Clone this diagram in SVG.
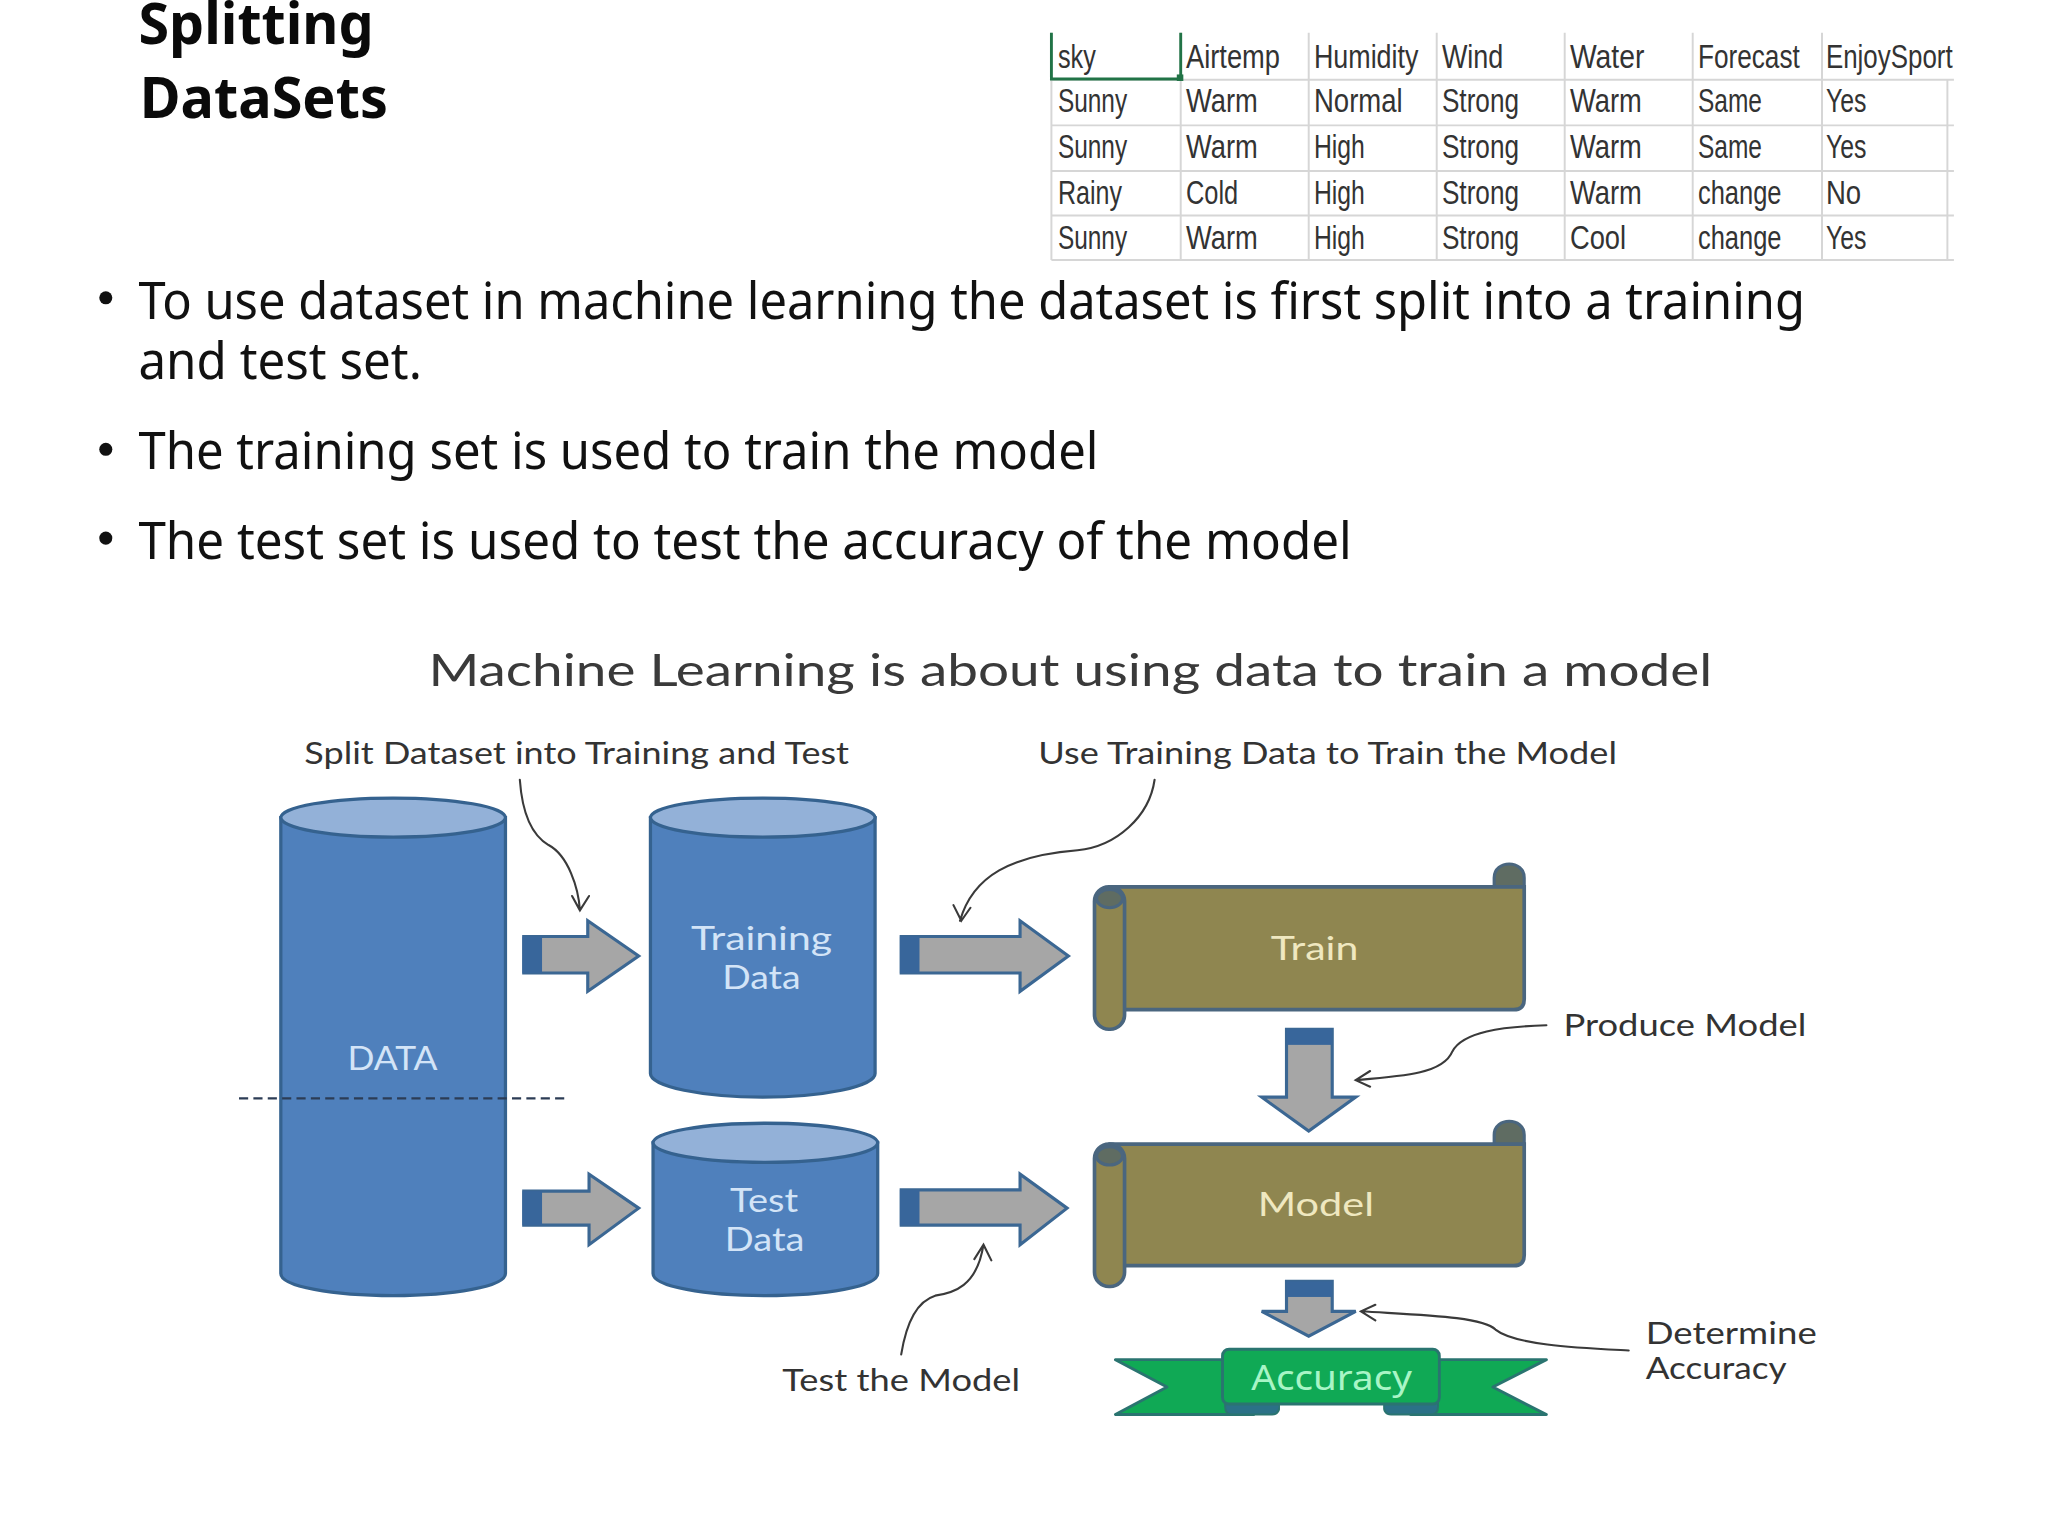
<svg xmlns="http://www.w3.org/2000/svg" width="2048" height="1536" viewBox="0 0 2048 1536">
<defs>
<style>
text{font-family:"Noto Sans","Liberation Sans",sans-serif}
.title{font-size:44px;font-weight:700;fill:#0a0a0a}
.body{font-size:39px;fill:#111}
.bullet{fill:#111}
.cell{font-family:"Liberation Sans Narrow","Liberation Sans",sans-serif;font-size:25px;fill:#333}
.grid{stroke:#d6d6d6;stroke-width:1.5;fill:none}
.sel{stroke:#217346;stroke-width:2.2;fill:none}
.head{font-family:Lato,"Noto Sans",sans-serif;font-size:34px;fill:#3a3a3a}
.note{font-family:Lato,"Noto Sans",sans-serif;font-size:24px;fill:#333}
.cyl{fill:#4f80bc;stroke:#35628f;stroke-width:2.5}
.cap{fill:#93b1d8;stroke:#35628f;stroke-width:2.5}
.ct{font-family:Lato,"Noto Sans",sans-serif;font-size:25px;fill:#d3e4f7;text-anchor:middle}
.st{font-family:Lato,"Noto Sans",sans-serif;font-size:25px;fill:#efe8c0;text-anchor:middle}
.arrow{fill:#a6a6a6;stroke:#3b6793;stroke-width:2.4}
.band{fill:#38669b}
.scroll{fill:#8f8650;stroke:#4a667f;stroke-width:2.8}
.curl{fill:#5f6c62;stroke:#4a667f;stroke-width:2.4}
.rib{fill:#10a955;stroke:#2a7470;stroke-width:2.2;stroke-linejoin:round}
.foot{fill:#2b7187;stroke:#2a7470;stroke-width:1.5}
.leader{fill:none;stroke:#3a3a3a;stroke-width:1.6;stroke-linecap:round}
.dash{stroke:#2c3c55;stroke-width:1.8;stroke-dasharray:7 4;fill:none}
</style>
</defs>
<rect width="2048" height="1536" fill="#ffffff"/>
<g transform="scale(1.3061)">
<g id="slide-title">
<text class="title" x="106" y="34" textLength="180" lengthAdjust="spacingAndGlyphs">Splitting</text>
<text class="title" x="107" y="90" textLength="190" lengthAdjust="spacingAndGlyphs">DataSets</text>
</g>
<g id="bullets">
<circle class="bullet" cx="81" cy="228" r="5"/>
<circle class="bullet" cx="81" cy="344" r="5"/>
<circle class="bullet" cx="81" cy="412" r="5"/>
<text class="body" x="106" y="244" textLength="1276" lengthAdjust="spacingAndGlyphs">To use dataset in machine learning the dataset is first split into a training</text>
<text class="body" x="106" y="290" textLength="217" lengthAdjust="spacingAndGlyphs">and test set.</text>
<text class="body" x="106" y="359" textLength="735" lengthAdjust="spacingAndGlyphs">The training set is used to train the model</text>
<text class="body" x="106" y="428" textLength="929" lengthAdjust="spacingAndGlyphs">The test set is used to test the accuracy of the model</text>
</g>
<g id="table">
<path class="grid" d="M805 61H1496M805 96H1496M805 131H1496M805 165H1496M805 199H1496M805 25V199M904 25V199M1002 25V199M1100 25V199M1198 25V199M1296 25V199M1395 25V199M1491 61V199"/>
<path class="sel" d="M805 25V60.500H904M904 25V60"/>
<rect x="901" y="57" width="5" height="5" fill="#217346"/>
<text class="cell" x="810" y="52" textLength="29" lengthAdjust="spacingAndGlyphs">sky</text>
<text class="cell" x="908" y="52" textLength="72" lengthAdjust="spacingAndGlyphs">Airtemp</text>
<text class="cell" x="1006" y="52" textLength="80" lengthAdjust="spacingAndGlyphs">Humidity</text>
<text class="cell" x="1104" y="52" textLength="47" lengthAdjust="spacingAndGlyphs">Wind</text>
<text class="cell" x="1202" y="52" textLength="57" lengthAdjust="spacingAndGlyphs">Water</text>
<text class="cell" x="1300" y="52" textLength="78" lengthAdjust="spacingAndGlyphs">Forecast</text>
<text class="cell" x="1398" y="52" textLength="97" lengthAdjust="spacingAndGlyphs">EnjoySport</text>
<text class="cell" x="810" y="86" textLength="53" lengthAdjust="spacingAndGlyphs">Sunny</text>
<text class="cell" x="908" y="86" textLength="55" lengthAdjust="spacingAndGlyphs">Warm</text>
<text class="cell" x="1006" y="86" textLength="68" lengthAdjust="spacingAndGlyphs">Normal</text>
<text class="cell" x="1104" y="86" textLength="59" lengthAdjust="spacingAndGlyphs">Strong</text>
<text class="cell" x="1202" y="86" textLength="55" lengthAdjust="spacingAndGlyphs">Warm</text>
<text class="cell" x="1300" y="86" textLength="49" lengthAdjust="spacingAndGlyphs">Same</text>
<text class="cell" x="1398" y="86" textLength="31" lengthAdjust="spacingAndGlyphs">Yes</text>
<text class="cell" x="810" y="121" textLength="53" lengthAdjust="spacingAndGlyphs">Sunny</text>
<text class="cell" x="908" y="121" textLength="55" lengthAdjust="spacingAndGlyphs">Warm</text>
<text class="cell" x="1006" y="121" textLength="39" lengthAdjust="spacingAndGlyphs">High</text>
<text class="cell" x="1104" y="121" textLength="59" lengthAdjust="spacingAndGlyphs">Strong</text>
<text class="cell" x="1202" y="121" textLength="55" lengthAdjust="spacingAndGlyphs">Warm</text>
<text class="cell" x="1300" y="121" textLength="49" lengthAdjust="spacingAndGlyphs">Same</text>
<text class="cell" x="1398" y="121" textLength="31" lengthAdjust="spacingAndGlyphs">Yes</text>
<text class="cell" x="810" y="156" textLength="49" lengthAdjust="spacingAndGlyphs">Rainy</text>
<text class="cell" x="908" y="156" textLength="40" lengthAdjust="spacingAndGlyphs">Cold</text>
<text class="cell" x="1006" y="156" textLength="39" lengthAdjust="spacingAndGlyphs">High</text>
<text class="cell" x="1104" y="156" textLength="59" lengthAdjust="spacingAndGlyphs">Strong</text>
<text class="cell" x="1202" y="156" textLength="55" lengthAdjust="spacingAndGlyphs">Warm</text>
<text class="cell" x="1300" y="156" textLength="64" lengthAdjust="spacingAndGlyphs">change</text>
<text class="cell" x="1398" y="156" textLength="27" lengthAdjust="spacingAndGlyphs">No</text>
<text class="cell" x="810" y="191" textLength="53" lengthAdjust="spacingAndGlyphs">Sunny</text>
<text class="cell" x="908" y="191" textLength="55" lengthAdjust="spacingAndGlyphs">Warm</text>
<text class="cell" x="1006" y="191" textLength="39" lengthAdjust="spacingAndGlyphs">High</text>
<text class="cell" x="1104" y="191" textLength="59" lengthAdjust="spacingAndGlyphs">Strong</text>
<text class="cell" x="1202" y="191" textLength="43" lengthAdjust="spacingAndGlyphs">Cool</text>
<text class="cell" x="1300" y="191" textLength="64" lengthAdjust="spacingAndGlyphs">change</text>
<text class="cell" x="1398" y="191" textLength="31" lengthAdjust="spacingAndGlyphs">Yes</text>
</g>
<text class="head" x="328" y="525" textLength="983" lengthAdjust="spacingAndGlyphs">Machine Learning is about using data to train a model</text>
<g id="data-cylinder">
<path class="cyl" d="M215 626V975C215 985 255 992 301 992C347 992 387 985 387 975V626Z"/>
<ellipse class="cap" cx="301" cy="626" rx="86" ry="15"/>
<text class="ct" x="300.500" y="819" textLength="69" lengthAdjust="spacingAndGlyphs">DATA</text>
</g>
<g id="training-cylinder">
<path class="cyl" d="M498 626V822C498 832 538 840 584 840C630 840 670 832 670 822V626Z"/>
<ellipse class="cap" cx="584" cy="626" rx="86" ry="15"/>
<text class="ct" x="583" y="727" textLength="108" lengthAdjust="spacingAndGlyphs">Training</text>
<text class="ct" x="583" y="757" textLength="60" lengthAdjust="spacingAndGlyphs">Data</text>
</g>
<g id="test-cylinder">
<path class="cyl" d="M500 875V975C500 985 540 992 586 992C632 992 672 985 672 975V875Z"/>
<ellipse class="cap" cx="586" cy="875" rx="86" ry="15"/>
<text class="ct" x="585" y="928" textLength="52" lengthAdjust="spacingAndGlyphs">Test</text>
<text class="ct" x="585.500" y="958" textLength="61" lengthAdjust="spacingAndGlyphs">Data</text>
</g>
<g id="train-scroll">
<path class="curl" d="M1144 682V672C1144 658 1167 658 1167 672V682Z"/>
<path class="scroll" d="M850 679H1167V765Q1167 773 1159 773H850Z"/>
<rect class="scroll" x="838" y="679" width="23" height="109" rx="11"/>
<ellipse class="curl" cx="849.500" cy="688" rx="10" ry="7"/>
<text class="st" x="1006.500" y="735" textLength="67" lengthAdjust="spacingAndGlyphs">Train</text>
</g>
<g id="model-scroll">
<path class="curl" d="M1144 879V869C1144 855 1167 855 1167 869V879Z"/>
<path class="scroll" d="M850 876H1167V961Q1167 969 1159 969H850Z"/>
<rect class="scroll" x="838" y="876" width="23" height="109" rx="11"/>
<ellipse class="curl" cx="849.500" cy="885" rx="10" ry="7"/>
<text class="st" x="1007.500" y="931" textLength="89" lengthAdjust="spacingAndGlyphs">Model</text>
</g>
<g id="accuracy-ribbon">
<path class="rib" d="M854 1041H960V1083H854L893.500 1062ZM1184 1041H1080V1083H1184L1143 1062Z"/>
<path class="foot" d="M938 1070V1077Q938 1083 944 1083H974Q980 1083 980 1074V1070ZM1101 1070V1077Q1101 1083 1095 1083H1065Q1059 1083 1059 1074V1070Z"/>
<path d="M980 1074H1059V1085H980Z" fill="#ffffff"/>
<rect class="rib" x="936" y="1033" width="166" height="42" rx="5"/>
<text x="1019.500" y="1064" text-anchor="middle" font-family="Lato,'Noto Sans',sans-serif" font-size="27" fill="#a8f5c6" textLength="123" lengthAdjust="spacingAndGlyphs">Accuracy</text>
</g>
<g id="connectors">
<path class="dash" d="M183 841H432"/>
<g id="block-arrows">
<path class="arrow" d="M401 717H450V705L489 732L450 759V745H401Z"/><rect class="band" x="400" y="717" width="15" height="28"/>
<path class="arrow" d="M690 717H781V705L818 732L781 759V745H690Z"/><rect class="band" x="689" y="717" width="15" height="28"/>
<path class="arrow" d="M401 912H451V899L489 925L451 953V938H401Z"/><rect class="band" x="400" y="912" width="15" height="26"/>
<path class="arrow" d="M690 911H781V899L817 925L781 953V938H690Z"/><rect class="band" x="689" y="911" width="15" height="27"/>
<path class="arrow" d="M985 788H1020V840H1038L1002 866L966 840H985Z"/><rect class="band" x="985" y="788" width="35" height="12"/>
<path class="arrow" d="M985 981H1020V1004H1038L1002 1023L966 1004H985Z"/><rect class="band" x="985" y="981" width="35" height="12"/>
</g>
<path class="leader" d="M398 597C400 625 408 640 420 647C435 655 443 680 444 697M438 686L444 697L451 686"/>
<path class="leader" d="M884 597C880 625 855 648 825 651C775 655 745 670 735 705M730 693L736 705L743 695"/>
<path class="leader" d="M1184 785C1150 786 1120 790 1112 805C1105 822 1075 824 1038 827M1049 820L1038 827L1049 832"/>
<path class="leader" d="M690 1037C694 1012 703 996 716 992C730 990 748 985 753 953M746 964L753 953L759 965"/>
<path class="leader" d="M1247 1034C1210 1032 1160 1030 1145 1018C1135 1008 1090 1007 1042 1004M1053 999L1042 1004L1053 1011"/>
</g>
<g id="labels">
<text class="note" x="233" y="585" textLength="417" lengthAdjust="spacingAndGlyphs">Split Dataset into Training and Test</text>
<text class="note" x="795" y="585" textLength="443" lengthAdjust="spacingAndGlyphs">Use Training Data to Train the Model</text>
<text class="note" x="1197" y="793" textLength="186" lengthAdjust="spacingAndGlyphs">Produce Model</text>
<text class="note" x="599" y="1065" textLength="182" lengthAdjust="spacingAndGlyphs">Test the Model</text>
<text class="note" x="1260" y="1029" textLength="131" lengthAdjust="spacingAndGlyphs">Determine</text>
<text class="note" x="1260" y="1056" textLength="108" lengthAdjust="spacingAndGlyphs">Accuracy</text>
</g>
</g>
</svg>
